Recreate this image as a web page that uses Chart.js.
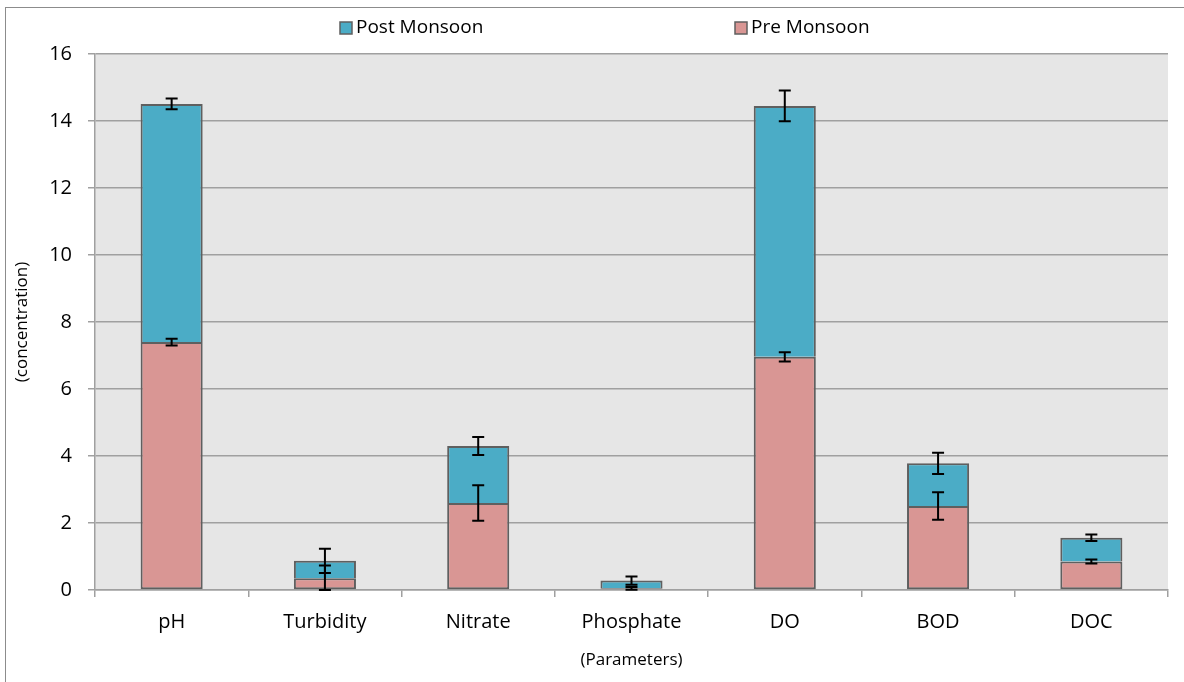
<!DOCTYPE html>
<html>
<head>
<meta charset="utf-8">
<script src="https://cdn.jsdelivr.net/npm/chart.js@4"></script>
<style>
  html, body { margin: 0; padding: 0; background: #ffffff; }
  #wrap { width: 1184px; height: 682px; position: relative; }
  #frame { position: absolute; left: 5px; top: 7px; right: -2px; bottom: -2px; border-left: 1.5px solid #8c8c8c; border-top: 1.5px solid #8c8c8c; }
  canvas { position: absolute; left: 0; top: 0; }
</style>
</head>
<body>
<div id="wrap">
  <div id="frame"></div>
  <canvas id="ctx_chart" width="1184" height="682"></canvas>
</div>
<script>
const categories = ['pH', 'Turbidity', 'Nitrate', 'Phosphate', 'DO', 'BOD', 'DOC'];
const pre_monsoon = [7.40, 0.35, 2.60, 0.05, 6.96, 2.51, 0.85];
const post_monsoon = [7.11, 0.52, 1.70, 0.23, 7.49, 1.27, 0.71];
const pre_error = [0.10, 0.38, 0.53, 0.04, 0.14, 0.41, 0.06];
const post_error = [0.16, 0.36, 0.27, 0.12, 0.46, 0.32, 0.10];
const y_ticks = [0, 2, 4, 6, 8, 10, 12, 14, 16];

const font_name = '"Open Sans", "Noto Sans", sans-serif';

// grey plot background
const plotBackground = {
    id: 'plotBackground',
    beforeDraw(chart) {
        const a = chart.chartArea;
        const c = chart.ctx;
        c.save();
        c.fillStyle = '#e6e6e6';
        c.fillRect(a.left, a.top, a.right - a.left, a.bottom - a.top);
        c.restore();
    }
};

// error bars on top of each stacked segment
const errorBars = {
    id: 'errorBars',
    afterDatasetsDraw(chart) {
        const c = chart.ctx;
        const y = chart.scales.y;
        c.save();
        c.strokeStyle = '#000000';
        c.lineWidth = 2;
        chart.data.datasets.forEach((ds, d) => {
            const meta = chart.getDatasetMeta(d);
            meta.data.forEach((bar, i) => {
                let top = 0;
                for (let k = 0; k <= d; k++) top += chart.data.datasets[k].data[i];
                const err = ds.errors[i];
                const y1 = y.getPixelForValue(Math.max(0, top - err));
                const y2 = y.getPixelForValue(top + err);
                c.beginPath();
                c.moveTo(bar.x, y1);
                c.lineTo(bar.x, y2);
                c.moveTo(bar.x - 6, y1);
                c.lineTo(bar.x + 6, y1);
                c.moveTo(bar.x - 6, y2);
                c.lineTo(bar.x + 6, y2);
                c.stroke();
            });
        });
        c.restore();
    }
};

// legend spread wide like the original (Post first, then Pre)
const wideLegend = {
    id: 'wideLegend',
    afterDraw(chart) {
        const c = chart.ctx;
        const slots = [340, 735];
        const order = chart.data.datasets.slice().reverse();
        c.save();
        c.font = '19px ' + font_name;
        c.textBaseline = 'middle';
        c.textAlign = 'left';
        order.forEach((ds, i) => {
            const x = slots[i];
            c.fillStyle = ds.backgroundColor;
            c.fillRect(x, 22, 12, 12);
            c.strokeStyle = '#5f5f5f';
            c.lineWidth = 1.5;
            c.strokeRect(x, 22, 12, 12);
            c.fillStyle = '#000000';
            c.fillText(ds.label, x + 16, 28);
        });
        c.restore();
    }
};

new Chart(document.getElementById('ctx_chart'), {
    type: 'bar',
    data: {
        labels: categories,
        datasets: [{
            label: 'Pre Monsoon',
            data: pre_monsoon,
            errors: pre_error,
            backgroundColor: '#d99694',
            borderColor: '#5f5f5f',
            borderWidth: 2,
            borderSkipped: false,
            barPercentage: 0.405,
            categoryPercentage: 1
        },
        {
            label: 'Post Monsoon',
            data: post_monsoon,
            errors: post_error,
            backgroundColor: '#4bacc6',
            borderColor: '#5f5f5f',
            borderWidth: 2,
            borderSkipped: 'start',
            barPercentage: 0.405,
            categoryPercentage: 1
        }]
    },
    options: {
        responsive: false,
        animation: false,
        layout: {
            padding: { left: 5, right: 16, top: 54, bottom: 0 }
        },
        scales: {
            x: {
                stacked: true,
                afterFit(scale) { scale.height = 92; },
                grid: {
                    display: true,
                    offset: true,
                    drawOnChartArea: false,
                    drawTicks: true,
                    tickLength: 7,
                    color: '#a0a0a0',
                    lineWidth: 1.5
                },
                border: { display: true, color: '#a0a0a0', width: 1.5 },
                ticks: {
                    color: '#000000',
                    font: { family: font_name, size: 20 },
                    padding: 13
                },
                title: {
                    display: true,
                    text: '(Parameters)',
                    color: '#000000',
                    font: { family: font_name, size: 17 },
                    padding: { top: 2, bottom: 12 }
                }
            },
            y: {
                stacked: true,
                min: 0,
                max: 16,
                afterFit(scale) { scale.width = 90; },
                afterBuildTicks(scale) {
                    scale.ticks = y_ticks.map(v => ({ value: v }));
                },
                grid: {
                    display: true,
                    drawTicks: true,
                    tickLength: 7,
                    color: '#a0a0a0',
                    lineWidth: 1.5
                },
                border: { display: true, color: '#a0a0a0', width: 1.5 },
                ticks: {
                    color: '#000000',
                    font: { family: font_name, size: 20 },
                    padding: 16
                },
                title: {
                    display: true,
                    text: '(concentration)',
                    color: '#000000',
                    font: { family: font_name, size: 17 },
                    padding: { top: 7, bottom: 0 }
                }
            }
        },
        plugins: {
            legend: { display: false },
            tooltip: { enabled: false }
        }
    },
    plugins: [plotBackground, errorBars, wideLegend]
});
</script>
</body>
</html>
